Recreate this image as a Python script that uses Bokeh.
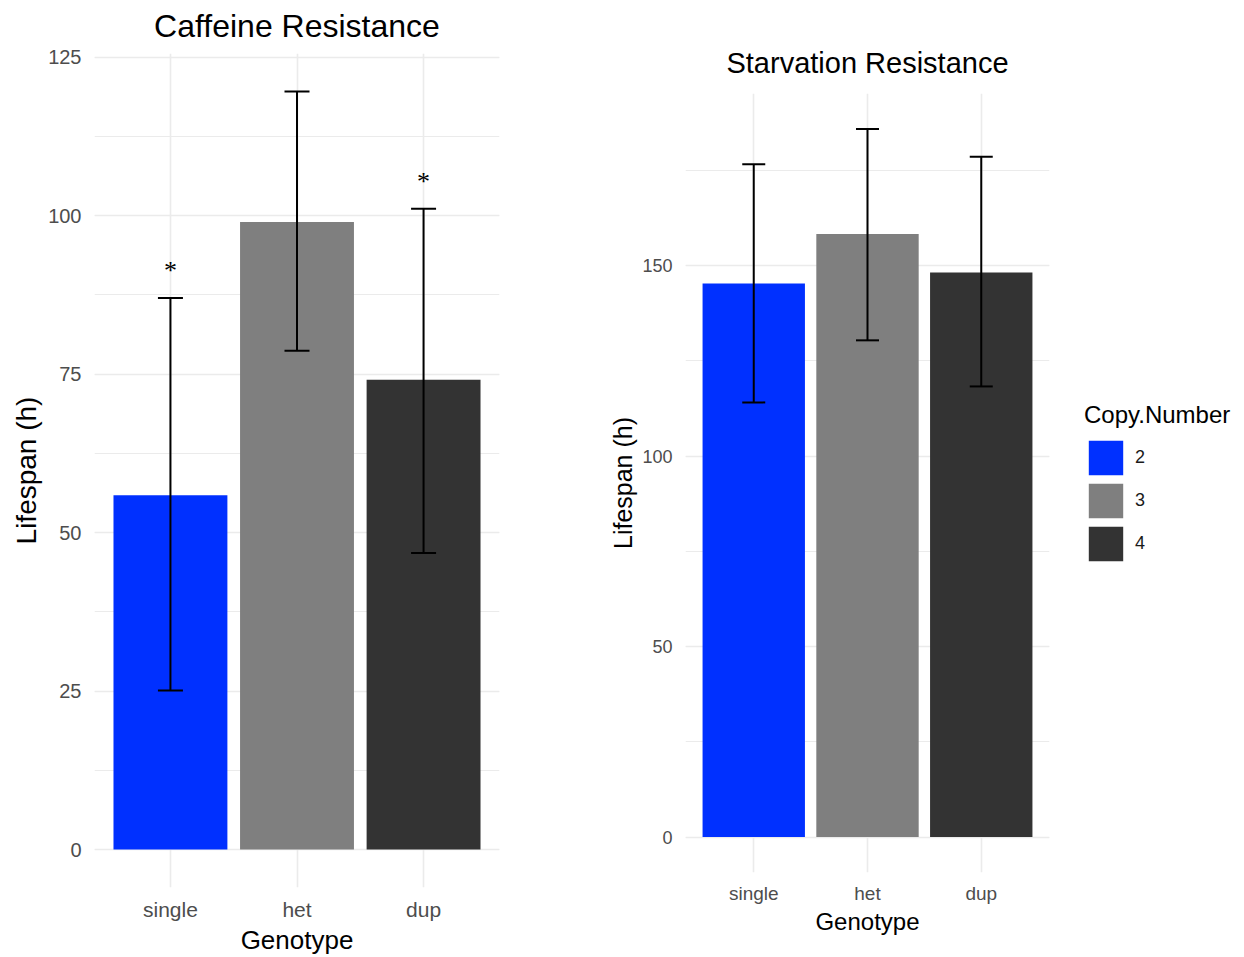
from bokeh.plotting import figure
from bokeh.models import (Range1d, FactorRange, SingleIntervalTicker, Whisker, TeeHead,
                          ColumnDataSource, Legend, LegendItem)
from bokeh.layouts import row, column
from bokeh.core.properties import value
from bokeh.embed import file_html
from bokeh.resources import INLINE

# ---------------- data ----------------
genotypes = ["single", "het", "dup"]
copy_numbers = ["2", "3", "4"]
colors = ["#0030FF", "#7F7F7F", "#333333"]

caffeine_mean = [55.9, 99.0, 74.1]
caffeine_upper = [87.0, 119.6, 101.1]
caffeine_lower = [25.1, 78.7, 46.8]
caffeine_signif = ["single", "dup"]

starvation_mean = [145.3, 158.3, 148.2]
starvation_upper = [176.6, 185.9, 178.6]
starvation_lower = [114.1, 130.4, 118.3]

FONT = "Liberation Sans"
GRID = "#EBEBEB"


def make_panel(title, mean, upper, lower, interval, width, height, borders, fs):
    hi = max(upper)
    pad = 0.05 * hi
    p = figure(
        x_range=FactorRange(*genotypes, range_padding=0.1, range_padding_units="absolute"),
        y_range=Range1d(-pad, hi + pad),
        width=width, height=height,
        output_backend="svg", toolbar_location=None,
        min_border_left=borders[0], min_border_right=borders[1],
        min_border_top=borders[2], min_border_bottom=borders[3],
    )
    p.outline_line_color = None
    p.background_fill_color = "white"
    p.border_fill_color = "white"

    p.title.text = title
    p.title.align = "center"
    p.title.vertical_align = fs["title_valign"]
    p.title.text_font = FONT
    p.title.text_font_size = f"{fs['title']}px"
    p.title.text_font_style = "normal"
    p.title.text_color = "#000000"
    p.title.standoff = fs["title_standoff"]

    src = ColumnDataSource(dict(genotype=genotypes, mean=mean, upper=upper,
                                lower=lower, color=colors, copy=copy_numbers))
    p.vbar(x="genotype", top="mean", width=0.9, source=src,
           fill_color="color", line_color=None)

    w = Whisker(source=src, base="genotype", upper="upper", lower="lower",
                line_color="black", line_width=2, level="annotation",
                upper_head=TeeHead(size=fs["cap"], line_width=2, line_color="black"),
                lower_head=TeeHead(size=fs["cap"], line_width=2, line_color="black"))
    p.add_layout(w)

    p.yaxis.ticker = SingleIntervalTicker(interval=interval, num_minor_ticks=2)
    for ax in (p.xaxis[0], p.yaxis[0]):
        ax.axis_line_color = None
        ax.major_tick_line_color = None
        ax.minor_tick_line_color = None
        ax.major_tick_out = 0
        ax.major_tick_in = 0
        ax.minor_tick_out = 0
        ax.major_label_text_font = FONT
        ax.major_label_text_color = "#4D4D4D"
        ax.axis_label_text_font = FONT
        ax.axis_label_text_font_style = "normal"
        ax.axis_label_text_color = "#000000"
    p.xaxis.axis_label = "Genotype"
    p.yaxis.axis_label = "Lifespan (h)"
    p.xaxis.major_label_text_font_size = f"{fs['xtick']}px"
    p.yaxis.major_label_text_font_size = f"{fs['ytick']}px"
    p.xaxis.axis_label_text_font_size = f"{fs['xlab']}px"
    p.yaxis.axis_label_text_font_size = f"{fs['ylab']}px"
    p.xaxis.major_label_standoff = fs["xtick_standoff"]
    p.yaxis.major_label_standoff = fs["ytick_standoff"]
    p.xaxis.axis_label_standoff = fs["xlab_standoff"]
    p.yaxis.axis_label_standoff = fs["ylab_standoff"]

    p.ygrid.grid_line_color = GRID
    p.ygrid.grid_line_width = 1.6
    p.ygrid.minor_grid_line_color = GRID
    p.ygrid.minor_grid_line_width = 1.2
    p.xgrid.grid_line_color = GRID
    p.xgrid.grid_line_width = 1.6
    return p, src


p1, _ = make_panel(
    "Caffeine Resistance", caffeine_mean, caffeine_upper, caffeine_lower, 25,
    560, 957, (94, 61, 53, 68),
    dict(title=32, title_standoff=15, title_valign="top", cap=25, xtick=21, ytick=20,
         xlab=26, ylab=28, xtick_standoff=10, ytick_standoff=13, xlab_standoff=1,
         ylab_standoff=3),
)

star_src = ColumnDataSource(dict(
    genotype=caffeine_signif,
    y=[caffeine_upper[genotypes.index(g)] + 4.3 for g in caffeine_signif],
    t=["*"] * len(caffeine_signif),
))
p1.text(x="genotype", y="y", text="t", source=star_src,
        text_font=value("Liberation Serif"), text_font_size="26px",
        text_align="center", text_baseline="middle", text_color="black")

p2, src2 = make_panel(
    "Starvation Resistance", starvation_mean, starvation_upper, starvation_lower, 50,
    500, 957, (125, 11, 93, 85),
    dict(title=29, title_standoff=29, title_valign="bottom", cap=23, xtick=19, ytick=18,
         xlab=24, ylab=25, xtick_standoff=10, ytick_standoff=13, xlab_standoff=1,
         ylab_standoff=2),
)

# legend panel (fill key for Copy.Number)
p3 = figure(width=184, height=957, x_range=FactorRange(*genotypes), y_range=Range1d(0, 1),
            x_axis_location=None, y_axis_location=None, output_backend="svg",
            toolbar_location=None, min_border=0)
p3.outline_line_color = None
p3.grid.visible = False
key = p3.vbar(x="genotype", top="mean", width=0.9, source=src2,
              fill_color="color", line_color=None, visible=False)

items = [LegendItem(label=c, renderers=[key], index=i) for i, c in enumerate(copy_numbers)]
legend = Legend(items=items, location=(24, 392), title="Copy.Number",
                title_text_font=FONT, title_text_font_size="24px",
                title_text_font_style="normal", title_text_color="#000000",
                title_standoff=7,
                label_text_font=FONT, label_text_font_size="18px",
                label_text_color="#1A1A1A", label_standoff=8,
                glyph_width=43, glyph_height=43, spacing=0,
                padding=0, margin=0, border_line_color=None,
                background_fill_alpha=0, inactive_fill_alpha=0)
p3.add_layout(legend, "center")

layout = row(column(p1), column(p2), column(p3), spacing=0)
open("out.html", "w").write(file_html(layout, INLINE))
